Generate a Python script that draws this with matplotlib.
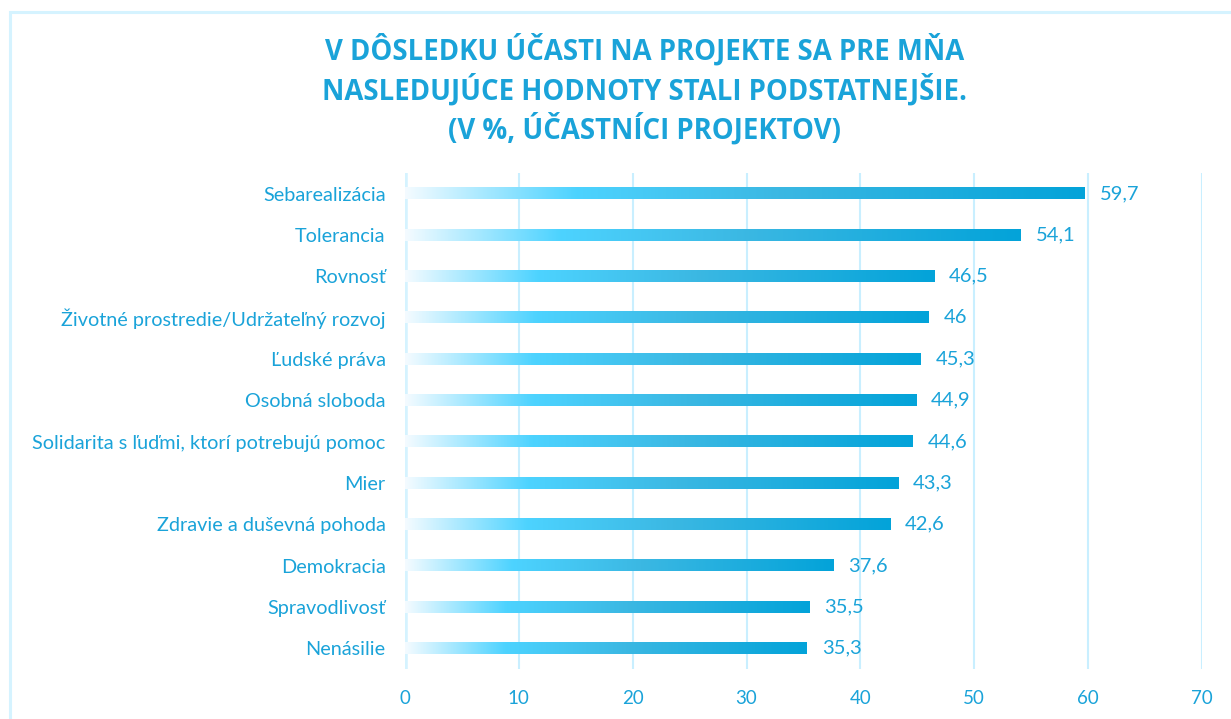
import numpy as np
import matplotlib.pyplot as plt
from matplotlib.colors import LinearSegmentedColormap
from matplotlib.patches import Rectangle

categories = [
    'Sebarealizácia', 'Tolerancia', 'Rovnosť',
    'Životné prostredie/Udržateľný rozvoj', 'Ľudské práva', 'Osobná sloboda',
    'Solidarita s ľuďmi, ktorí potrebujú pomoc', 'Mier',
    'Zdravie a duševná pohoda', 'Demokracia', 'Spravodlivosť', 'Nenásilie',
]
values = [59.7, 54.1, 46.5, 46, 45.3, 44.9, 44.6, 43.3, 42.6, 37.6, 35.5, 35.3]
value_labels = ['59,7', '54,1', '46,5', '46', '45,3', '44,9', '44,6', '43,3',
                '42,6', '37,6', '35,5', '35,3']
title = ('V DÔSLEDKU ÚČASTI NA PROJEKTE SA PRE MŇA\n'
         'NASLEDUJÚCE HODNOTY STALI PODSTATNEJŠIE.\n'
         '(V %, ÚČASTNÍCI PROJEKTOV)')

text_col = '#1aa3d9'
grid_col = '#c9efff'

plt.rcParams['font.family'] = ['Open Sans', 'DejaVu Sans']

fig = plt.figure(figsize=(12.31, 7.19), dpi=100)
fig.patches.append(Rectangle((10 / 1231, -0.1), 1.2, (719 - 12) / 719 + 0.1,
                             transform=fig.transFigure, fill=False,
                             edgecolor='#d5f3ff', linewidth=2.2))

ax = fig.add_axes([405 / 1231, 50 / 719, 797 / 1231, 496 / 719])

cmap = LinearSegmentedColormap.from_list(
    'bar', [(0, '#f4fbff'), (0.25, '#4dd3ff'), (0.55, '#3bb8e3'), (1, '#03a3d9')])
grad = np.linspace(0, 1, 256).reshape(1, -1)

y = np.arange(len(categories))[::-1]
h = 0.27
bars = ax.barh(y, values, height=h, color='none')
for b, v in zip(bars, values):
    ax.imshow(grad, cmap=cmap, aspect='auto', interpolation='bicubic',
              extent=(0, v, b.get_y(), b.get_y() + h), zorder=3)

for yy, v, lab in zip(y, values, value_labels):
    ax.text(v + 1.3, yy, lab, va='center', ha='left', fontsize=14.5,
            color=text_col, family=['Lato', 'DejaVu Sans'])

ax.set_xlim(0, 70)
ax.set_ylim(-0.5, len(categories) - 0.5)
ax.set_xticks(range(0, 71, 10))
ax.set_yticks(y)
ax.set_yticklabels(categories)
ax.tick_params(axis='both', length=0, colors=text_col)
ax.tick_params(axis='x', pad=15, labelsize=13.5)
ax.tick_params(axis='y', pad=14, labelsize=14.3)
for t in ax.get_xticklabels() + ax.get_yticklabels():
    t.set_family(['Lato', 'DejaVu Sans'])
ax.grid(axis='x', color=grid_col, linewidth=1.5, zorder=0)
ax.set_axisbelow(True)
for s in ax.spines.values():
    s.set_visible(False)
ax.axvline(0, color='#d5f3ff', linewidth=4, zorder=1)

fig.text(645 / 1231, 1 - 90 / 719, title, ha='center', va='center',
         fontsize=19.8, fontweight='bold', color=text_col, linespacing=1.28)

fig.savefig('out.png', dpi=100)
